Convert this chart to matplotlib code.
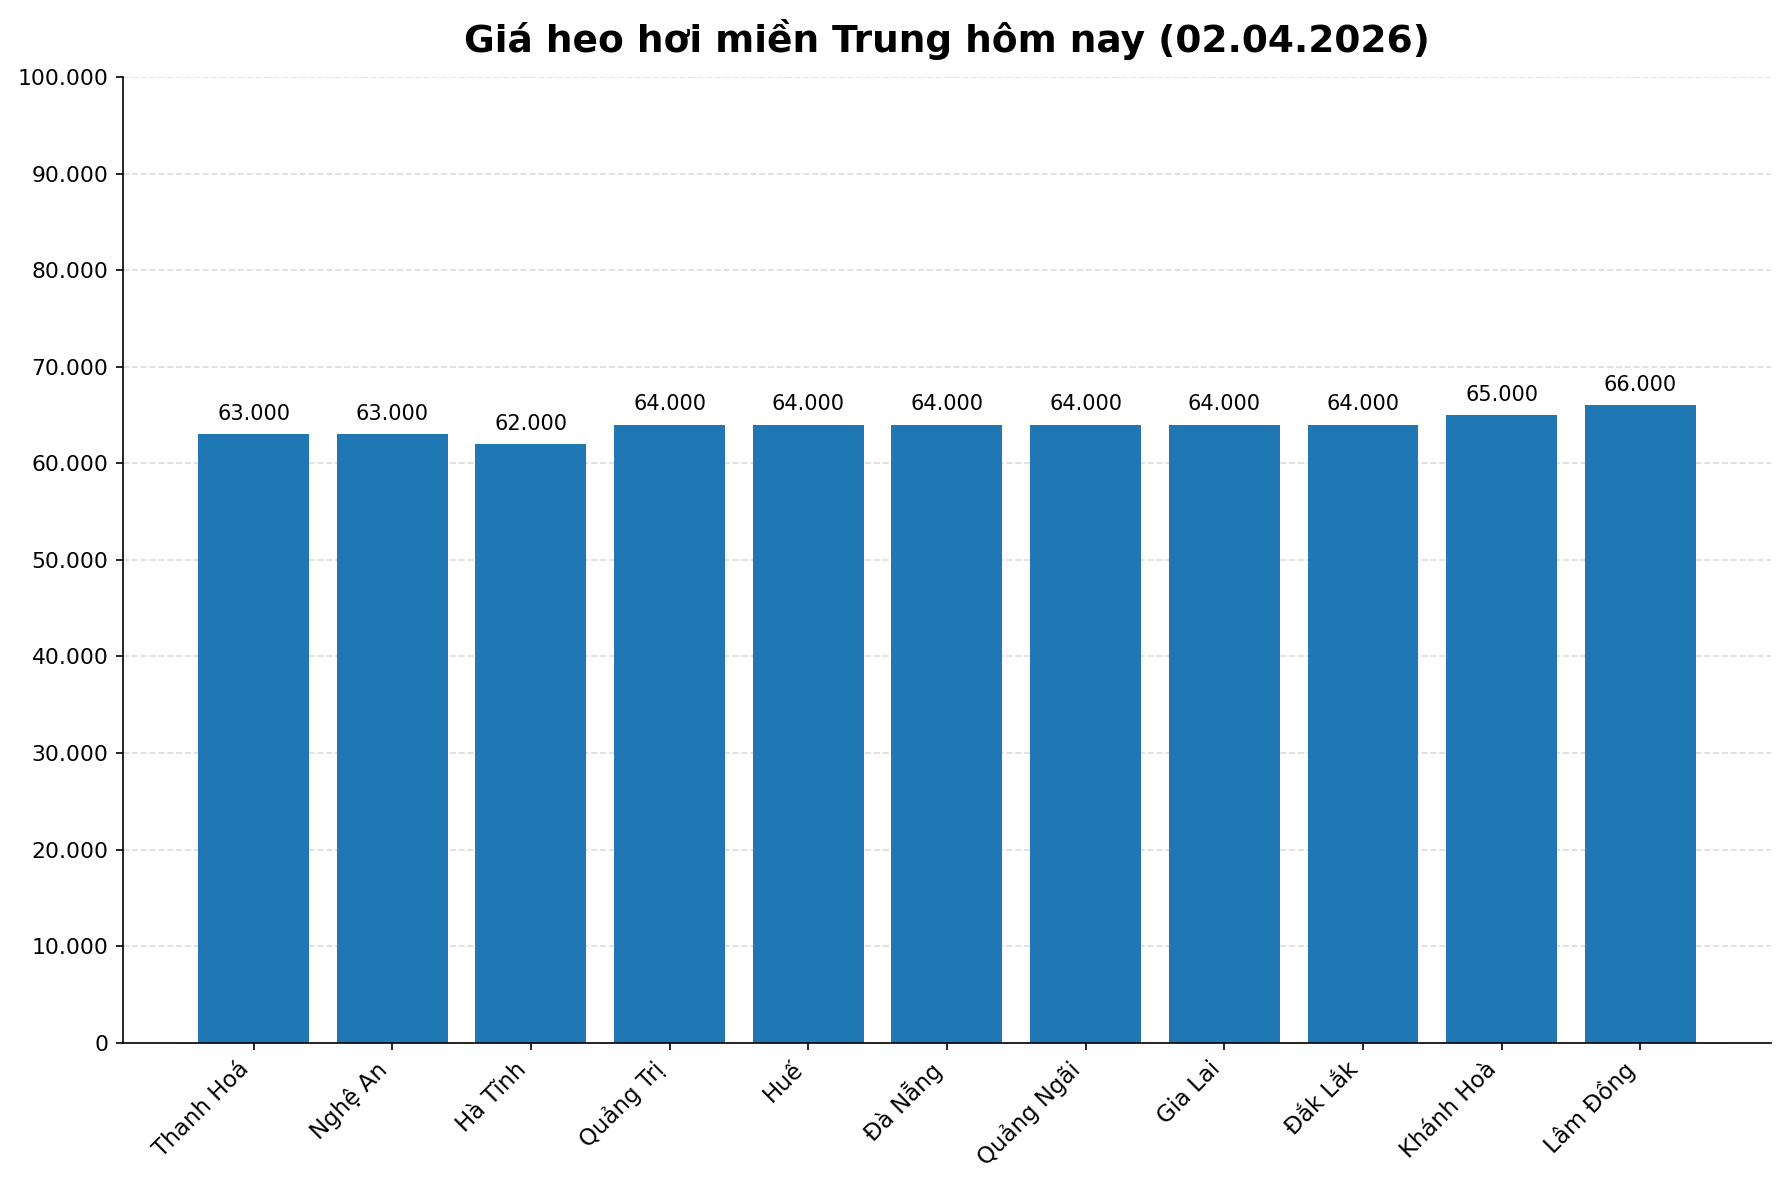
import matplotlib.pyplot as plt
from matplotlib.ticker import FuncFormatter

# Du lieu gia heo hoi
provinces = ['Thanh Hoá', 'Nghệ An', 'Hà Tĩnh', 'Quảng Trị', 'Huế', 'Đà Nẵng',
             'Quảng Ngãi', 'Gia Lai', 'Đắk Lắk', 'Khánh Hoà', 'Lâm Đồng']
prices = [63000, 63000, 62000, 64000, 64000, 64000, 64000, 64000, 64000, 65000, 66000]
title = 'Giá heo hơi miền Trung hôm nay (02.04.2026)'


def fmt_vn(v, pos=None):
    return f'{int(v):,}'.replace(',', '.')


fig, ax = plt.subplots(figsize=(11.9, 7.9), dpi=150)
bars = ax.bar(provinces, prices, color='#1f77b4', width=0.8, zorder=2)

for bar, p in zip(bars, prices):
    ax.annotate(fmt_vn(p), (bar.get_x() + bar.get_width() / 2, p),
                xytext=(0, 5), textcoords='offset points',
                ha='center', va='bottom', fontsize=10)

ax.set_ylim(0, 100000)
ax.set_yticks(range(0, 100001, 10000))
ax.yaxis.set_major_formatter(FuncFormatter(fmt_vn))
ax.grid(axis='y', linestyle='--', color='#dddddd', linewidth=0.8, zorder=0)
ax.set_axisbelow(True)
ax.spines['top'].set_visible(False)
ax.spines['right'].set_visible(False)
ax.tick_params(axis='y', labelsize=10.5)
ax.tick_params(axis='x', labelsize=11)
plt.setp(ax.get_xticklabels(), rotation=45, ha='right')
ax.set_title(title, fontsize=18, fontweight='bold', pad=12)

plt.subplots_adjust(left=0.069, right=0.992, top=0.935, bottom=0.12)
plt.savefig('out.png')
plt.close()
